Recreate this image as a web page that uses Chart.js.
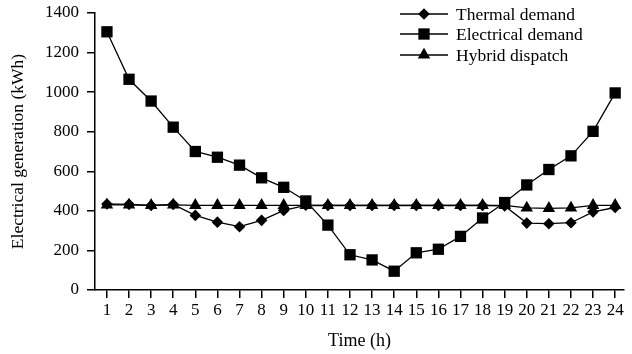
<!DOCTYPE html>
<html>
<head>
<meta charset="utf-8">
<script src="https://cdn.jsdelivr.net/npm/chart.js@4.4.1/dist/chart.umd.min.js"></script>
<style>
    body { margin: 0; background: #fff; }
    #wrap { width: 632px; height: 354px; }
</style>
</head>
<body>
<div id="wrap"><canvas id="myChart" width="632" height="354"></canvas></div>
<script>
// Horas del día
const horas = [1, 2, 3, 4, 5, 6, 7, 8, 9, 10, 11, 12, 13, 14, 15, 16, 17, 18, 19, 20, 21, 22, 23, 24];

// Series (kWh)
const demandaTermica = [435, 433, 427, 433, 377, 343, 320, 352, 402, 428, 427, 427, 427, 427, 427, 427, 427, 427, 425, 338, 335, 340, 395, 417];
const demandaElectrica = [1305, 1065, 955, 823, 700, 671, 631, 567, 519, 450, 328, 178, 152, 95, 188, 206, 271, 364, 442, 531, 609, 678, 802, 996];
const despachoHibrido = [430, 430, 428, 430, 428, 428, 428, 428, 428, 428, 428, 428, 428, 428, 428, 428, 428, 428, 428, 415, 413, 415, 428, 428];

const nombresSeries = ["Thermal demand", "Electrical demand", "Hybrid dispatch"];
const ticksY = [0, 200, 400, 600, 800, 1000, 1200, 1400];

const serif = "'Liberation Serif', 'Times New Roman', serif";

function puntos(valores) {
    return horas.map((h, i) => ({ x: h, y: valores[i] }));
}

// Leyenda propia: línea con el marcador en medio
const leyendaLinea = {
    id: "leyendaLinea",
    afterDraw(chart) {
        const ctx = chart.ctx;
        const filas = [14, 34, 55];
        ctx.save();
        chart.data.datasets.forEach((ds, i) => {
            const y = filas[i];
            ctx.strokeStyle = "#000";
            ctx.lineWidth = 1.5;
            ctx.beginPath();
            ctx.moveTo(400, y);
            ctx.lineTo(448, y);
            ctx.stroke();
            ctx.fillStyle = "#000";
            Chart.helpers.drawPoint(ctx, {
                pointStyle: ds.pointStyle,
                radius: ds.pointRadius,
                rotation: 0,
                borderWidth: 0
            }, 424, y);
            ctx.font = "17.5px " + serif;
            ctx.textBaseline = "middle";
            ctx.textAlign = "left";
            ctx.fillText(ds.label, 456, y + 1);
        });
        ctx.restore();
    }
};

function serie(label, valores, estilo, radio) {
    return {
        label: label,
        data: puntos(valores),
        borderColor: "#000",
        backgroundColor: "#000",
        borderWidth: 1.3,
        pointStyle: estilo,
        pointRadius: radio,
        pointBorderWidth: 0,
        pointBackgroundColor: "#000",
        tension: 0,
        clip: false
    };
}

const ctx = document.getElementById("myChart").getContext("2d");
new Chart(ctx, {
    type: "line",
    data: {
        datasets: [
            serie(nombresSeries[0], demandaTermica, "rectRot", 5.8),
            serie(nombresSeries[1], demandaElectrica, "rect", 8),
            serie(nombresSeries[2], despachoHibrido, "triangle", 7.2)
        ]
    },
    options: {
        responsive: false,
        animation: false,
        layout: { padding: { top: 13, right: 2, left: 0, bottom: 0 } },
        plugins: {
            legend: { display: false },
            tooltip: { enabled: false }
        },
        scales: {
            x: {
                type: "linear",
                min: 0.46,
                max: 24.4,
                afterBuildTicks: s => { s.ticks = horas.map(v => ({ value: v })); },
                afterFit: s => { s.height = 64; s.paddingRight = 0; },
                grid: { drawOnChartArea: false, drawTicks: true, tickLength: 8, color: "#000", lineWidth: 1.5 },
                border: { color: "#000", width: 1.5 },
                ticks: { color: "#000", font: { family: serif, size: 17 }, padding: 2, maxRotation: 0, autoSkip: false, callback: v => String(v) },
                title: { display: true, text: "Time (h)", color: "#000", font: { family: serif, size: 18 }, padding: { top: 0, bottom: 2 } }
            },
            y: {
                min: 0,
                max: 1400,
                afterBuildTicks: s => { s.ticks = ticksY.map(v => ({ value: v })); },
                afterFit: s => { s.width = 95; s.paddingTop = 0; s.paddingBottom = 0; },
                grid: { drawOnChartArea: false, drawTicks: true, tickLength: 8, color: "#000", lineWidth: 1.5 },
                border: { color: "#000", width: 1.5 },
                ticks: { color: "#000", font: { family: serif, size: 17 }, padding: 8, callback: v => String(v) },
                title: { display: true, text: "Electrical generation (kWh)", color: "#000", font: { family: serif, size: 17.5 }, padding: { top: 8, bottom: 0 } }
            }
        }
    },
    plugins: [leyendaLinea]
});
</script>
</body>
</html>
